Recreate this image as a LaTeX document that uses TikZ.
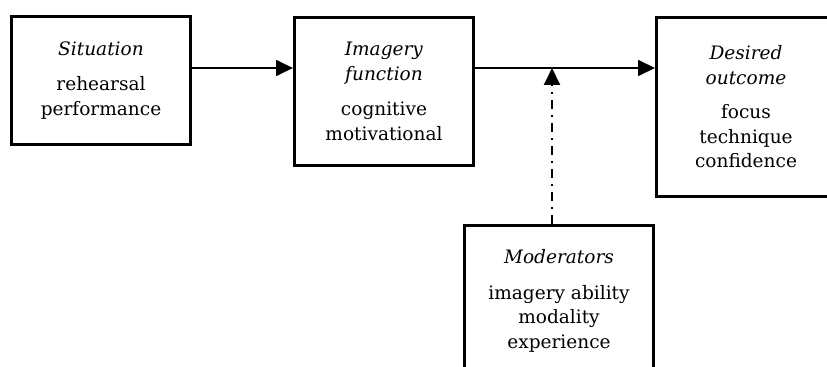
\documentclass[tikz,border=0pt]{standalone}
\usepackage{fontspec}
\setmainfont{DejaVu Serif}
\usetikzlibrary{arrows.meta}

\begin{document}
\begin{tikzpicture}[x=0.75pt, y=-0.75pt,
    box/.style={draw, line width=2.25pt, inner sep=0pt, align=center,
      minimum width=134.25pt, font=\fontsize{13.9}{18.5}\selectfont},
    flow/.style={line width=1.3pt, -{Triangle[length=12.75pt, width=12pt]}},
    modline/.style={line width=1.5pt, dash pattern=on 6.75pt off 4.5pt on 1.5pt off 4.5pt,
      -{Triangle[length=12.75pt, width=12pt]}}]
  \clip (0,0) rectangle (827,367);

  % 1. the four boxes
  \node[box, minimum height=96pt] (sit) at (101,80.5)
    {\textit{Situation}\\[8pt] rehearsal\\ performance};
  \node[box, minimum height=111pt] (img) at (384,91.5)
    {\textit{Imagery}\\ \textit{function}\\[8pt] cognitive\\ motivational};
  \node[box, minimum height=134.25pt] (out) at (746,107)
    {\textit{Desired}\\ \textit{outcome}\\[7pt] focus\\ technique\\ confidence};
  \node[box, minimum width=141.75pt, minimum height=113.25pt] (mod) at (559,301)
    {\textit{Moderators}\\[8pt] imagery ability\\ modality\\ experience};

  % 2. arrows between the boxes
  \coordinate (tap) at (552,68);
  \draw[flow] (sit.east |- tap) -- (img.west |- tap);
  \draw[flow] (img.east |- tap) -- (out.west |- tap);

  % moderators act on the second arrow
  \draw[modline] (mod.north -| tap) -- (tap);
\end{tikzpicture}
\end{document}
